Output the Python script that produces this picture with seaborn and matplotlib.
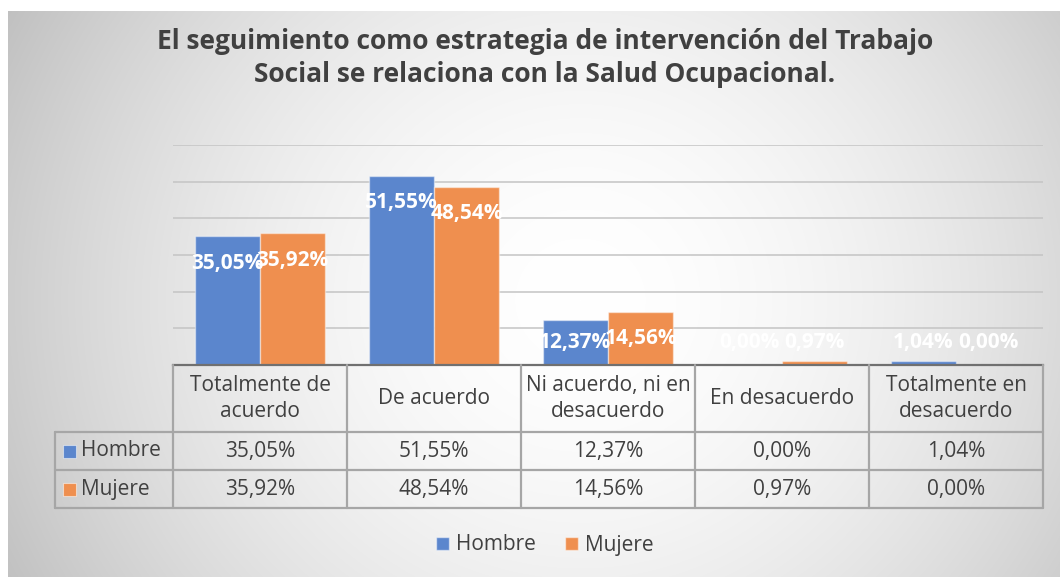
import numpy as np
import pandas as pd
import matplotlib
matplotlib.use("Agg")
import matplotlib.pyplot as plt
import seaborn as sns
from matplotlib.patches import Rectangle, Patch

# ---- data ----
categorias = ["Totalmente de\nacuerdo", "De acuerdo", "Ni acuerdo, ni en\ndesacuerdo",
              "En desacuerdo", "Totalmente en\ndesacuerdo"]
series = ["Hombre", "Mujere"]
hombre = [35.05, 51.55, 12.37, 0.00, 1.04]
mujere = [35.92, 48.54, 14.56, 0.97, 0.00]
titulo = ("El seguimiento como estrategia de intervención del Trabajo\n"
          "Social se relaciona con la Salud Ocupacional.")
colores = ["#5B86CD", "#EF8F4F"]


def fmt(v):
    return f"{v:.2f}%".replace(".", ",")


sns.set_theme(style="white")
plt.rcParams["font.family"] = ["Open Sans", "DejaVu Sans"]

W, H = 1060, 577
fig = plt.figure(figsize=(W / 100, H / 100), dpi=100)

# ---- background gradient ----
bg = fig.add_axes([0, 0, 1, 1], zorder=0)
yy, xx = np.mgrid[0:H, 0:W]
d = np.hypot((xx - 580), (yy - 300) / 0.95)
g = 1 - 0.24 * np.clip(d / 640, 0, 1.05) ** 1.8
img = np.dstack([g, g, g])
img[:11, :, :] = 1
img[:, :8, :] = 1
bg.imshow(img, extent=(0, W, H, 0), aspect="auto", interpolation="bilinear")
bg.set_xlim(0, W)
bg.set_ylim(H, 0)
bg.axis("off")

# ---- main bar axes ----
L, R, T, B = 173, 1043, 145, 365
ax = fig.add_axes([L / W, 1 - B / H, (R - L) / W, (B - T) / H], zorder=1)
ax.patch.set_alpha(0)
df = pd.DataFrame({
    "categoria": categorias * 2,
    "sexo": [series[0]] * len(categorias) + [series[1]] * len(categorias),
    "valor": hombre + mujere,
})
sns.barplot(data=df, x="categoria", y="valor", hue="sexo", palette=colores,
            width=0.75, gap=0, saturation=1, legend=False, ax=ax,
            edgecolor=(1, 1, 1, 0.45), linewidth=1)
ax.set_xlim(-0.5, len(categorias) - 0.5)
ax.set_ylim(0, 60)
ax.set_yticks(range(0, 61, 10))
ax.yaxis.grid(True, color="#c4c4c4", lw=1.1)
ax.set_axisbelow(True)
ax.set_yticklabels([])
ax.set_xticklabels([])
ax.tick_params(length=0)
ax.set_xlabel("")
ax.set_ylabel("")
for s in ["top", "left", "right"]:
    ax.spines[s].set_visible(False)
ax.spines["bottom"].set_color("#707070")
ax.spines["bottom"].set_linewidth(1.6)

for cont, vals in zip(ax.containers, [hombre, mujere]):
    for bar, v in zip(cont, vals):
        cx = bar.get_x() + bar.get_width() / 2
        ax.text(cx, max(v - 7.3, 6.2), fmt(v), ha="center", va="center",
                color="white", fontsize=15, fontweight="bold", zorder=5)

# ---- title ----
fig.text(545 / W, 1 - 58 / H, titulo, ha="center", va="center", fontsize=19,
         fontweight="bold", color="#404040", linespacing=1.3)

# ---- data table ----
ov = fig.add_axes([0, 0, 1, 1], zorder=2)
ov.patch.set_alpha(0)
ov.set_xlim(0, W)
ov.set_ylim(H, 0)
ov.axis("off")
lc, lw = "#a6a6a6", 1.6
n = len(categorias)
xs = [L + k * (R - L) / n for k in range(n + 1)]
y_head, y_r1, y_r2, y_end = 365, 432, 470, 508
x_left = 55
for x in xs:
    ov.plot([x, x], [y_head, y_end], color=lc, lw=lw)
ov.plot([x_left, x_left], [y_r1, y_end], color=lc, lw=lw)
for y in [y_r1, y_r2, y_end]:
    ov.plot([x_left, R], [y, y], color=lc, lw=lw)

tc = "#404040"
fs = 15
for i, cat in enumerate(categorias):
    cx = (xs[i] + xs[i + 1]) / 2
    ov.text(cx, (y_head + y_r1) / 2, cat, ha="center", va="center", fontsize=fs,
            color=tc, linespacing=1.3)
    ov.text(cx, (y_r1 + y_r2) / 2, fmt(hombre[i]), ha="center", va="center",
            fontsize=fs, color=tc)
    ov.text(cx, (y_r2 + y_end) / 2, fmt(mujere[i]), ha="center", va="center",
            fontsize=fs, color=tc)

for (y0, y1), name, col in zip([(y_r1, y_r2), (y_r2, y_end)], series, colores):
    cy = (y0 + y1) / 2
    ov.add_patch(Rectangle((63, cy - 6.5), 13, 13, facecolor=col,
                           edgecolor=(1, 1, 1, 0.5), lw=0.8))
    ov.text(81, cy, name, ha="left", va="center", fontsize=fs, color=tc)

# ---- legend ----
handles = [Patch(facecolor=c, edgecolor=(1, 1, 1, 0.5), label=s)
           for c, s in zip(colores, series)]
fig.legend(handles=handles, loc="center", bbox_to_anchor=(545 / W, 1 - 545 / H),
           ncol=2, frameon=False, fontsize=fs, handlelength=0.6, handleheight=0.6,
           handletextpad=0.35, columnspacing=1.4, labelcolor=tc)

fig.savefig("out.png", dpi=100)
